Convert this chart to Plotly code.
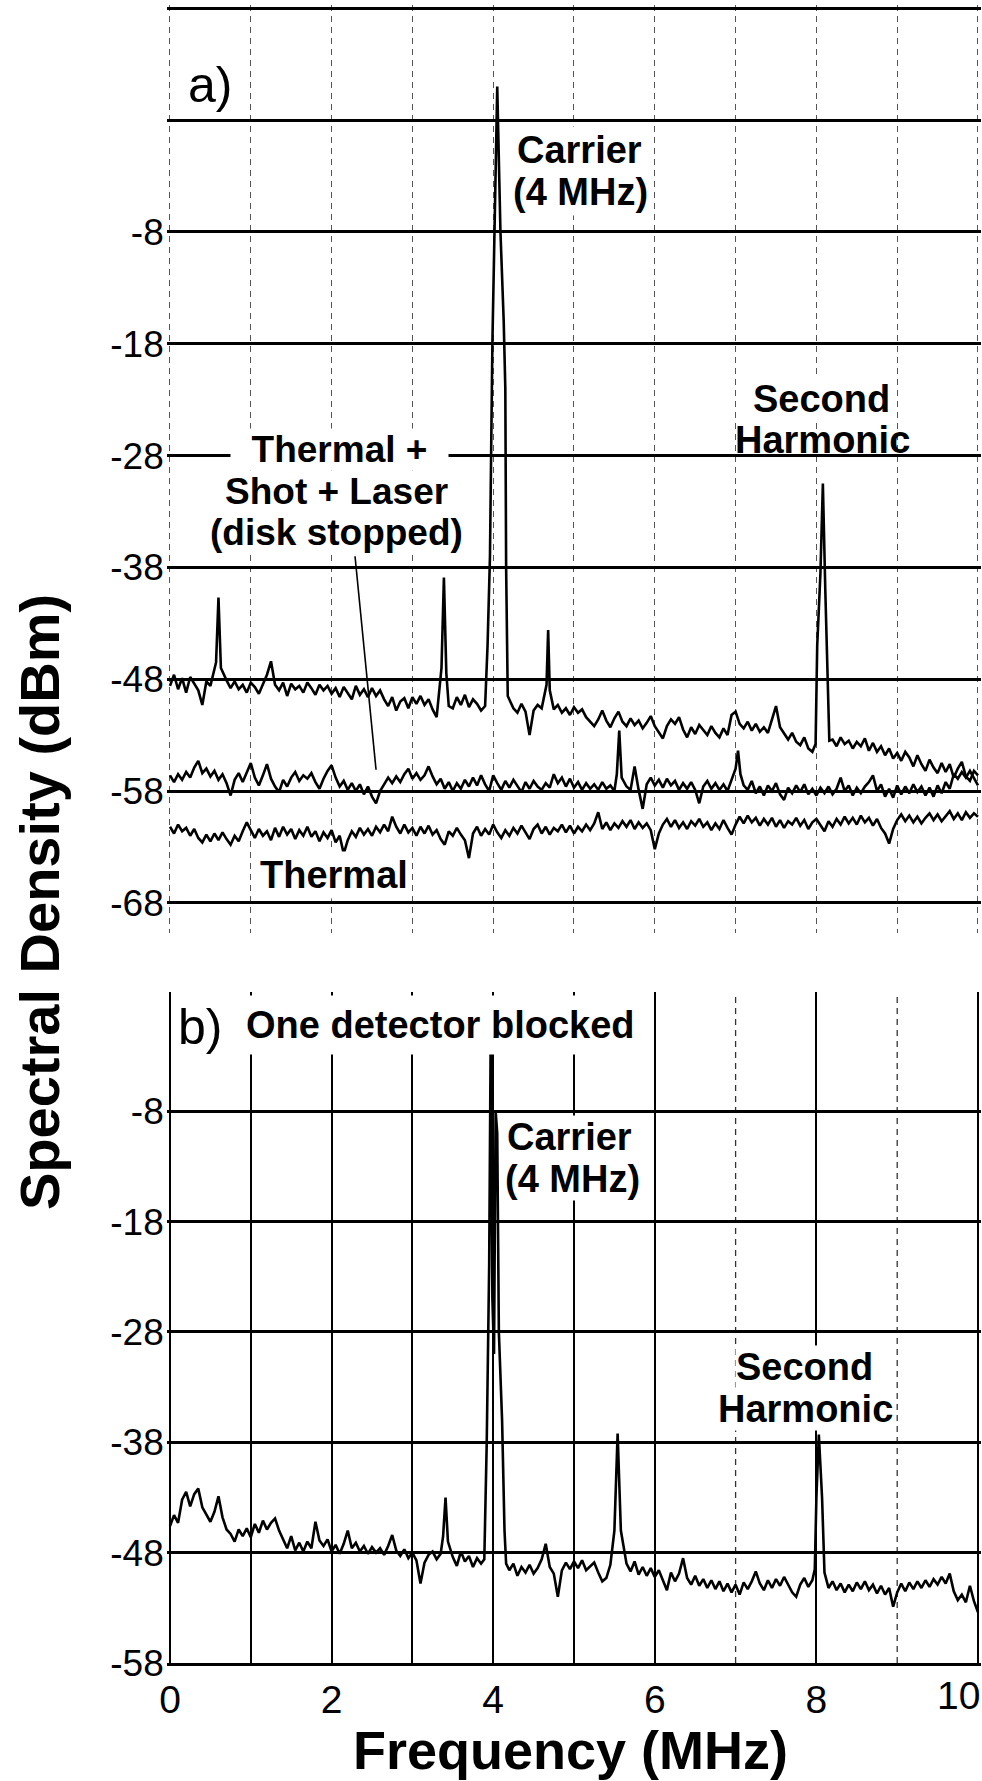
import plotly.graph_objects as go

# ---------------- data ----------------
# frequency bins (MHz), 0.05 MHz spacing
freq_mhz = [round(i * 0.05, 2) for i in range(201)]

# Panel a) upper trace (disk spinning) - noise floor, dBm
a_upper_dbm = [
    -48.6, -47.6, -48.9, -47.9, -49.2, -47.8, -48.4, -49.0, -50.3, -48.2, -48.6, -48.0, -48.3, -48.3, -48.1, -48.8, -48.2, -48.9, -48.5, -49.2,
    -48.3, -48.7, -49.3, -48.4, -47.6, -46.4, -48.5, -49.0, -48.3, -49.5, -48.4, -48.9, -48.6, -49.2, -48.3, -48.8, -49.4, -48.5, -49.0, -48.6,
    -49.3, -48.8, -49.6, -48.7, -49.2, -49.8, -48.6, -49.4, -48.9, -49.6, -48.8, -49.5, -49.0, -49.8, -50.4, -49.6, -50.8, -50.0, -49.7, -50.6,
    -49.6, -50.2, -49.5, -50.3, -49.8, -50.7, -51.4, -50.5, -50.0, -50.4, -50.6, -49.6, -50.3, -49.4, -50.5, -49.8, -50.2, -50.8, -50.4, -50.0,
    -50.0, -50.0, -50.0, -50.0, -50.8, -50.6, -51.0, -50.2, -50.9, -53.0, -50.8, -50.3, -50.6, -49.8, -50.2, -50.7, -50.3, -51.0, -50.6, -51.2,
    -50.5, -51.0, -50.7, -51.4, -51.8, -52.2, -51.6, -50.8, -51.7, -52.3, -51.5, -50.9, -51.8, -52.2, -51.5, -52.1, -51.7, -52.4, -51.9, -51.3,
    -52.2, -52.8, -53.3, -52.2, -51.6, -52.0, -51.4, -52.5, -53.2, -52.3, -52.9, -52.1, -52.6, -53.0, -52.2, -52.8, -53.2, -52.4, -53.0, -51.2,
    -50.9, -52.0, -52.4, -51.8, -52.6, -52.0, -52.7, -52.3, -52.8, -51.7, -50.4, -52.3, -52.9, -53.4, -52.8, -53.6, -53.9, -53.2, -54.2, -54.5,
    -54.0, -54.0, -54.0, -54.0, -53.4, -54.0, -53.2, -53.8, -53.5, -54.2, -53.6, -54.0, -53.3, -54.4, -53.7, -54.5, -54.0, -54.8, -54.2, -55.1,
    -54.6, -55.3, -54.5, -55.0, -55.8, -54.8, -55.6, -56.2, -55.2, -55.9, -56.4, -55.5, -56.3, -55.6, -56.8, -56.0, -55.4, -56.7, -57.1, -56.2,
    -56.6,
]
a_upper_peak_mhz = [0.57, 0.60, 0.63, 3.36, 3.39, 3.42,
                    3.93, 3.96, 3.99, 4.05, 4.09, 4.13, 4.15, 4.16, 4.18,
                    4.66, 4.68, 4.70,
                    7.99, 8.01, 8.05, 8.08, 8.11, 8.14, 8.16]
a_upper_peak_dbm = [-46.5, -40.7, -47.0, -47.0, -38.9, -47.5,
                    -45.0, -37.0, -18.0, 5.0, -8.0, -16.0, -22.0, -38.0, -49.5,
                    -48.5, -43.6, -49.0,
                    -53.8, -45.0, -38.5, -30.5, -40.0, -49.0, -53.5]

# Panel a) middle trace: Thermal + Shot + Laser (disk stopped)
a_mid_dbm = [
    -56.6, -57.2, -56.5, -57.0, -56.3, -56.8, -55.9, -55.3, -56.4, -56.0, -56.7, -56.2, -57.0, -56.5, -57.3, -58.4, -57.0, -56.4, -57.2, -56.3,
    -55.5, -56.8, -57.5, -56.6, -55.6, -56.9, -57.6, -58.1, -57.0, -57.6, -56.8, -56.3, -57.1, -56.6, -56.9, -56.4, -57.2, -57.8, -56.9, -56.2,
    -55.7, -56.8, -57.6, -57.1, -57.9, -57.3, -58.0, -57.4, -58.3, -57.6, -58.5, -59.1, -58.0, -57.4, -56.8, -57.3, -56.7, -57.2, -56.5, -56.0,
    -56.9, -56.4, -57.0, -56.6, -55.8, -56.7, -57.4, -56.9, -57.8, -57.2, -58.0, -57.3, -57.8, -57.0, -57.6, -56.8, -57.5, -56.6, -57.4, -58.0,
    -56.6, -57.3, -57.9, -57.1, -57.7, -57.0, -57.6, -58.1, -57.2, -57.8, -57.1, -57.6, -57.9, -57.3, -57.7, -56.5, -57.3, -56.8, -57.6, -56.9,
    -57.7, -57.2, -57.9, -57.3, -57.8, -57.4, -57.9, -57.2, -57.8, -57.5, -58.0, -57.6, -57.4, -57.6, -57.9, -55.8, -57.9, -59.6, -57.4, -56.8,
    -57.5, -57.0, -57.7, -56.9, -57.5, -57.1, -57.9, -57.3, -57.8, -57.2, -57.9, -59.1, -57.6, -57.1, -57.8, -57.3, -57.9, -57.4, -58.0, -57.0,
    -57.2, -57.2, -57.5, -57.9, -57.1, -58.2, -57.6, -58.4, -57.5, -58.0, -57.3, -58.3, -58.8, -57.7, -58.2, -57.5, -58.1, -57.4, -58.3, -57.8,
    -58.4, -57.7, -58.2, -57.6, -58.3, -57.8, -56.8, -58.0, -57.5, -58.4, -57.7, -58.2, -57.6, -57.2, -56.6, -58.0, -57.4, -58.5, -57.8, -58.6,
    -57.5, -58.3, -57.6, -58.2, -57.4, -58.1, -57.6, -58.4, -57.7, -58.5, -57.5, -58.2, -57.2, -57.8, -56.5, -56.9, -56.3, -56.8, -56.2, -56.9,
    -57.5,
]
a_mid_peak_mhz = [5.53, 5.56, 5.59, 7.00, 7.03, 7.06]
a_mid_peak_dbm = [-56.5, -52.6, -56.8, -56.0, -54.4, -56.5]

# Panel a) lower trace: Thermal
a_low_dbm = [
    -61.2, -61.8, -61.0, -61.6, -61.3, -62.0, -61.4, -62.2, -62.6, -61.9, -62.5, -61.8, -62.4, -61.7, -62.3, -62.8, -62.0, -62.5, -61.6, -60.8,
    -61.5, -62.2, -61.4, -62.0, -61.6, -62.4, -61.3, -62.1, -61.2, -61.9, -61.4, -62.3, -61.5, -62.0, -61.2, -62.1, -61.6, -62.5, -61.7, -62.2,
    -61.5, -62.6, -62.0, -63.6, -62.4, -61.6, -62.1, -61.3, -61.9, -61.4, -62.0, -61.2, -61.7, -61.0, -61.6, -60.3, -61.2, -61.8, -61.0, -61.7,
    -61.3, -62.0, -61.2, -61.8, -61.1, -61.9, -61.5, -62.3, -62.8, -61.6, -62.0, -61.3, -61.9, -62.4, -64.0, -61.8, -61.2, -62.0, -61.4, -61.9,
    -61.0, -61.7, -62.2, -61.5, -62.0, -61.3, -61.8, -61.1, -61.7, -62.3, -61.4, -61.0, -61.8, -61.2, -61.9, -61.3, -61.6, -61.0, -61.7, -61.1,
    -61.8, -61.2, -61.6, -61.0, -61.5, -60.9, -59.9, -61.4, -60.8, -61.5, -60.9, -61.3, -60.7, -61.2, -60.6, -61.4, -60.8, -61.3, -60.9, -61.5,
    -63.2, -61.8, -61.0, -60.5, -61.2, -60.6, -61.3, -60.8, -61.4, -60.7, -61.1, -60.5, -61.2, -60.8, -61.5, -60.9, -61.4, -60.6, -61.3, -61.9,
    -61.0, -60.3, -60.9, -60.2, -60.8, -60.4, -61.1, -60.5, -61.0, -60.4, -61.2, -60.6, -61.3, -60.7, -61.0, -60.4, -61.1, -60.6, -61.4, -60.8,
    -60.5, -61.1, -61.6, -60.7, -61.2, -60.5, -61.0, -60.3, -60.9, -60.4, -61.0, -60.2, -60.8, -60.4, -61.1, -60.5, -61.3, -61.8, -62.7, -61.4,
    -60.6, -60.1, -60.7, -60.2, -60.8, -60.3, -60.9, -60.4, -60.0, -60.6, -60.1, -60.7, -60.2, -59.8, -60.5, -60.0, -60.6, -59.9, -60.4, -60.0,
    -60.3,
]

# Panel b) one detector blocked
b_dbm = [
    -45.6, -44.6, -45.3, -43.2, -42.5, -43.8, -42.7, -42.2, -43.9, -44.6, -45.2, -44.3, -42.9, -44.8, -45.9, -46.3, -47.0, -45.9, -46.5, -45.8,
    -46.6, -45.4, -46.2, -45.1, -45.9, -45.3, -44.9, -46.0, -46.8, -47.6, -46.5, -47.8, -47.1, -47.9, -47.0, -47.6, -45.2, -46.9, -47.4, -46.8,
    -47.9, -47.3, -48.1, -47.2, -46.0, -47.6, -47.1, -47.9, -47.4, -48.1, -47.5, -48.0, -47.6, -48.2, -47.4, -46.4, -47.8, -48.3, -47.7, -48.5,
    -48.0, -48.7, -50.8, -48.9, -48.2, -47.9, -48.6, -48.1, -48.4, -48.8, -48.4, -49.2, -47.9, -48.8, -48.3, -49.3, -48.5, -49.0, -48.7, -48.9,
    -49.0, -49.0, -49.0, -49.0, -49.6, -49.0, -50.1, -49.3, -49.8, -49.1, -49.9, -49.4, -48.6, -47.2, -49.3, -49.9, -52.0, -49.6, -48.9, -49.5,
    -48.8, -49.4, -48.7, -49.6, -49.2, -48.9, -49.8, -50.6, -50.3, -49.1, -49.0, -49.0, -49.0, -49.0, -49.7, -48.8, -50.0, -49.3, -50.1, -49.4,
    -50.2, -49.6, -50.5, -51.4, -49.8, -50.6, -49.9, -48.5, -50.3, -50.9, -50.1, -51.0, -50.4, -51.2, -50.5, -51.3, -50.6, -51.5, -50.8, -51.6,
    -50.9, -51.8, -50.7, -51.3, -50.6, -49.7, -50.8, -51.4, -50.5, -51.2, -50.4, -51.0, -50.2, -50.9, -51.6, -52.0, -50.9, -50.3, -51.1, -50.5,
    -51.0, -51.0, -51.0, -51.2, -50.6, -51.4, -50.8, -51.6, -50.9, -51.5, -50.7, -51.3, -50.6, -51.4, -50.9, -51.7, -51.0, -51.8, -51.2, -52.9,
    -51.6, -50.8, -51.5, -50.7, -51.3, -50.6, -51.2, -50.5, -51.1, -50.4, -50.9, -50.2, -50.8, -49.9, -51.5, -52.3, -51.8, -52.5, -51.0, -52.4,
    -53.4,
]
b_peak_mhz = [3.38, 3.41, 3.44,
              3.89, 3.92, 3.95, 3.97, 3.99, 4.01, 4.03, 4.05, 4.07, 4.11, 4.14, 4.16,
              5.50, 5.54, 5.58,
              7.98, 8.00, 8.03, 8.07, 8.10]
b_peak_dbm = [-46.5, -43.0, -47.0,
              -48.6, -38.0, -22.0, 0.0, -25.0, -30.0, -8.0, -10.0, -28.0, -36.0, -46.0, -49.0,
              -46.0, -37.2, -46.0,
              -49.5, -43.0, -37.3, -43.0, -49.8]

y_ticks_a = [-68, -58, -48, -38, -28, -18, -8, 2, 12]
y_ticktext_a = ["-68", "-58", "-48", "-38", "-28", "-18", "-8", "", ""]
y_ticks_b = [-58, -48, -38, -28, -18, -8]
y_ticktext_b = ["-58", "-48", "-38", "-28", "-18", "-8"]
x_ticks = [0, 2, 4, 6, 8, 10]
x_ticktext = ["0", "2", "4", "6", "8", "10"]


def merge(grid_y, peak_x, peak_y, tol=0.025):
    pts = [(x, y) for x, y in zip(freq_mhz, grid_y)
           if all(abs(x - px) >= tol for px in peak_x)]
    pts += list(zip(peak_x, peak_y))
    pts.sort()
    return [p[0] for p in pts], [p[1] for p in pts]


NARROW = "Liberation Sans Narrow, Arial Narrow, Liberation Sans, Arial, sans-serif"
BOLD = "Liberation Sans, Arial, Helvetica, sans-serif"
LW = 2.6

fig = go.Figure()
xu, yu = merge(a_upper_dbm, a_upper_peak_mhz, a_upper_peak_dbm)
xm, ym = merge(a_mid_dbm, a_mid_peak_mhz, a_mid_peak_dbm)
xl, yl = merge(a_low_dbm, [], [])
xb, yb = merge(b_dbm, b_peak_mhz, b_peak_dbm)

for xs, ys in [(xu, yu), (xm, ym), (xl, yl)]:
    fig.add_trace(go.Scatter(x=xs, y=ys, mode="lines", xaxis="x", yaxis="y",
                             line=dict(color="black", width=LW), hoverinfo="skip"))
fig.add_trace(go.Scatter(x=xb, y=yb, mode="lines", xaxis="x2", yaxis="y2",
                         line=dict(color="black", width=LW), hoverinfo="skip"))

W, H = 982, 1781
XR = [-0.04, 10.04]
px_per_mhz = 80.8
xdom = [(170 - 0.04 * px_per_mhz) / W, (978 + 0.04 * px_per_mhz) / W]

# last x tick label sits against the right page edge (drawn separately below)
x_ticktext_axis = x_ticktext[:-1] + [""]

fig.update_layout(
    width=W, height=H,
    margin=dict(l=0, r=0, t=0, b=0, autoexpand=False),
    paper_bgcolor="white", plot_bgcolor="white",
    showlegend=False,
    font=dict(family=NARROW, color="black"),
    xaxis=dict(domain=xdom, anchor="y", range=XR, tickvals=list(range(11)),
               showticklabels=False, ticks="", showgrid=True, gridcolor="#555",
               gridwidth=1, griddash="6px,5px", zeroline=False, showline=False,
               automargin=False),
    yaxis=dict(domain=[1 - 933 / H, 1 - 5 / H], anchor="x", range=[-70.7, 12.3],
               tickvals=y_ticks_a, ticktext=y_ticktext_a, ticks="",
               tickfont=dict(family=NARROW, size=37, color="black"),
               ticklabelstandoff=2, automargin=False,
               showgrid=True, gridcolor="black", gridwidth=2.8,
               zeroline=False, showline=False),
    xaxis2=dict(domain=xdom, anchor="y2", range=XR, tickvals=x_ticks,
                ticktext=x_ticktext_axis, ticks="",
                tickfont=dict(family=NARROW, size=39, color="black"),
                ticklabelstandoff=0, automargin=False,
                showgrid=True, gridcolor="black", gridwidth=1.6,
                minor=dict(tickvals=[1, 3, 5], showgrid=True, gridcolor="black",
                           gridwidth=1.6, ticks=""),
                zeroline=False, showline=True, linecolor="black", linewidth=2.8),
    yaxis2=dict(domain=[1 - 1663 / H, 1 - 992 / H], anchor="x2", range=[-58, 2.8],
                tickvals=y_ticks_b, ticktext=y_ticktext_b, ticks="",
                tickfont=dict(family=NARROW, size=37, color="black"),
                ticklabelstandoff=2, automargin=False,
                showgrid=True, gridcolor="black", gridwidth=2.8,
                zeroline=False, showline=False),
)

fig.add_annotation(text=x_ticktext[-1], xref="paper", yref="paper", x=1.0,
                   y=1 - 1695 / H, xanchor="right", yanchor="middle", showarrow=False,
                   font=dict(family=NARROW, size=39, color="black"))

# dashed vertical grid in panel b at 7 and 9 MHz
for xv in [7, 9]:
    fig.add_shape(type="line", xref="x2", yref="y2", x0=xv, x1=xv, y0=-58, y1=2.8,
                  line=dict(color="#333", width=1.3, dash="6px,5px"), layer="below")

# pointer line from label to middle trace
fig.add_shape(type="line", xref="x", yref="y", x0=2.29, y0=-37.0, x1=2.55, y1=-56.1,
              line=dict(color="black", width=1.6))


def ann(text, x, y, axis, size=38, bold=True, bg=True, pad=2, family=None):
    xr, yr = ("x", "y") if axis == "a" else ("x2", "y2")
    fig.add_annotation(
        text=f"<b>{text}</b>" if bold else text, x=x, y=y, xref=xr, yref=yr,
        showarrow=False, xanchor="center", yanchor="middle",
        font=dict(family=family or BOLD, size=size, color="black"),
        bgcolor="white" if bg else None, borderpad=pad)


# Panel a annotations
ann("a)", 0.495, 5.1, "a", size=50, bold=False, bg=False, family=NARROW)
ann("Carrier", 5.07, -0.7, "a")
ann("(4 MHz)", 5.08, -4.4, "a")
ann("&nbsp;&nbsp;Thermal +&nbsp;&nbsp;", 2.10, -27.5, "a", size=37, pad=0)
ann("Shot + Laser", 2.06, -31.2, "a", size=37, pad=0)
ann("(disk stopped)", 2.06, -34.85, "a", size=37, pad=0)
ann("Second", 8.06, -22.9, "a")
ann("Harmonic", 8.08, -26.6, "a", bg=False)
ann("Thermal", 2.03, -65.5, "a")

# Panel b annotations
ann("b)", 0.37, -0.4, "b", size=50, bold=False, bg=False, family=NARROW)
ann("One detector blocked", 3.35, -0.2, "b", pad=8)
ann("Carrier", 4.94, -10.3, "b", pad=0)
ann("(4 MHz)", 4.98, -14.1, "b", pad=0)
ann("Second", 7.85, -31.2, "b", pad=0)
ann("Harmonic", 7.86, -35.0, "b", pad=0)

# axis titles
fig.add_annotation(text="<b>Spectral Density (dBm)</b>", xref="paper", yref="paper",
                   x=39 / W, y=1 - 902 / H, textangle=-90, showarrow=False,
                   xanchor="center", yanchor="middle",
                   font=dict(family=BOLD, size=56, color="black"))
fig.add_annotation(text="<b>Frequency (MHz)</b>", xref="paper", yref="paper",
                   x=570 / W, y=1 - 1750 / H, showarrow=False,
                   xanchor="center", yanchor="middle",
                   font=dict(family=BOLD, size=54, color="black"))

fig.write_html("out.html")
